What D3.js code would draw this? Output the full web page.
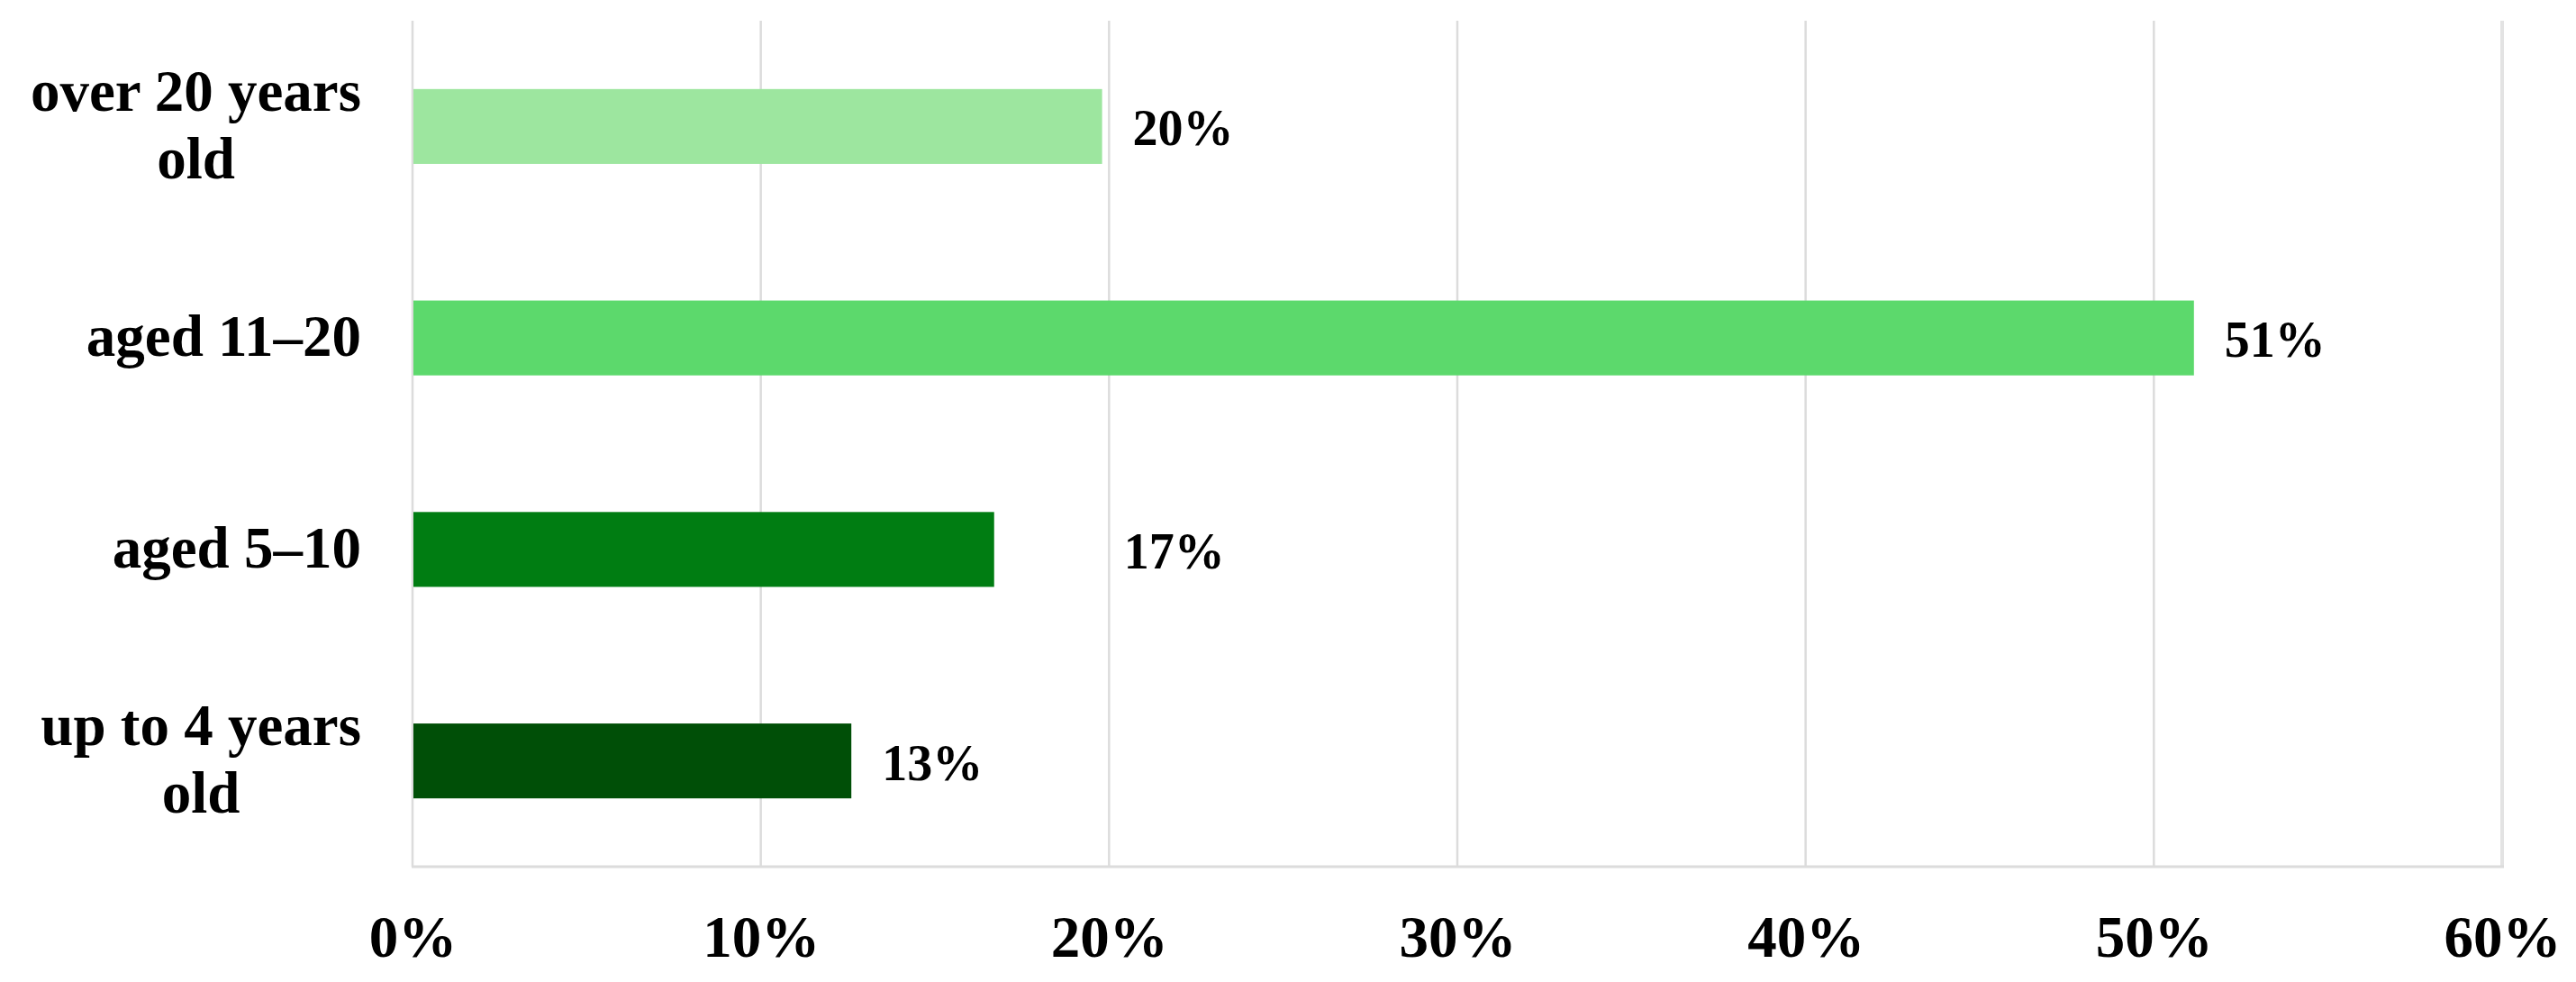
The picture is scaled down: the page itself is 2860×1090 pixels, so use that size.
<!DOCTYPE html>
<html>
<head>
<meta charset="utf-8">
<script src="https://cdn.jsdelivr.net/npm/d3@7"></script>
<style>
  html, body { margin: 0; padding: 0; background: #ffffff; }
  svg { display: block; }
  text { font-family: "Liberation Serif", "Times New Roman", serif; font-weight: bold; fill: #000; }
</style>
</head>
<body>
<svg id="chart" width="2860" height="1090"></svg>
<script>
// ---- data ----
const categories = ["over 20 years old", "aged 11–20", "aged 5–10", "up to 4 years old"];
const categoryLines = [["over 20 years", "old"], ["aged 11–20"], ["aged 5–10"], ["up to 4 years", "old"]];
const values = [19.8, 51.15, 16.7, 12.6];
const valueLabels = ["20%", "51%", "17%", "13%"];
const barColors = ["#9de69f", "#5cd96c", "#007d12", "#004f07"];
const xTicks = [0, 10, 20, 30, 40, 50, 60];
const xTickLabels = ["0%", "10%", "20%", "30%", "40%", "50%", "60%"];

// ---- layout ----
const W = 2860, H = 1090;
const plot = { left: 458, right: 2778, top: 23, bottom: 962 };
const labelRight = 401;
const svg = d3.select("#chart");

const x = d3.scaleLinear().domain([0, 60]).range([plot.left, plot.right]);
const y = d3.scaleBand().domain(categories).range([plot.top, plot.bottom])
  .paddingInner(0.646).paddingOuter(0.323);

// gridlines
const grid = svg.append("g");
grid.selectAll("line.grid").data(xTicks).enter().append("line")
  .attr("class", "grid")
  .attr("x1", d => x(d)).attr("x2", d => x(d))
  .attr("y1", plot.top).attr("y2", plot.bottom)
  .attr("stroke", d => d === 60 ? "#e3e3e3" : "#dcdcdc")
  .attr("stroke-width", d => d === 60 ? 4 : 2.5);
// bottom border
grid.append("line")
  .attr("x1", x(0) - 1).attr("x2", x(60) + 2)
  .attr("y1", plot.bottom).attr("y2", plot.bottom)
  .attr("stroke", "#dcdcdc").attr("stroke-width", 3);

// bars
svg.append("g").selectAll("rect").data(categories).enter().append("rect")
  .attr("x", x(0) + 1)
  .attr("y", d => y(d))
  .attr("width", (d, i) => x(values[i]) - x(0) - 1)
  .attr("height", y.bandwidth())
  .attr("fill", (d, i) => barColors[i]);

// value labels
const labelGap = 34;
const labelNudge = { "aged 5–10": 110 };
svg.append("g").selectAll("text").data(categories).enter().append("text")
  .attr("x", (d, i) => x(values[i]) + labelGap + (labelNudge[d] || 0))
  .attr("y", d => y(d) + y.bandwidth() / 2 + 21)
  .attr("font-size", 56)
  .text((d, i) => valueLabels[i]);

// x axis tick labels
const xAxis = d3.axisBottom(x).tickValues(xTicks)
  .tickFormat((d, i) => xTickLabels[i]).tickSize(0).tickPadding(0);
const gx = svg.append("g").attr("transform", `translate(0, ${plot.bottom})`).call(xAxis);
gx.select(".domain").remove();
gx.selectAll("text")
  .attr("font-family", "Liberation Serif")
  .attr("font-weight", "bold")
  .attr("font-size", 65)
  .attr("fill", "#000")
  .attr("dy", null)
  .attr("y", 100);

// category labels
const catG = svg.append("g");
categories.forEach((c, i) => {
  const lines = categoryLines[i];
  const cy = y(c) + y.bandwidth() / 2;
  const lh = 75;
  const g = catG.append("g");
  const texts = lines.map((ln, k) => g.append("text")
    .attr("font-size", 65)
    .attr("text-anchor", "middle")
    .attr("y", cy + 20 + (k - (lines.length - 1) / 2) * lh)
    .text(ln));
  const maxW = d3.max(texts, t => t.node().getComputedTextLength());
  texts.forEach(t => t.attr("x", labelRight - maxW / 2));
});
</script>
</body>
</html>
